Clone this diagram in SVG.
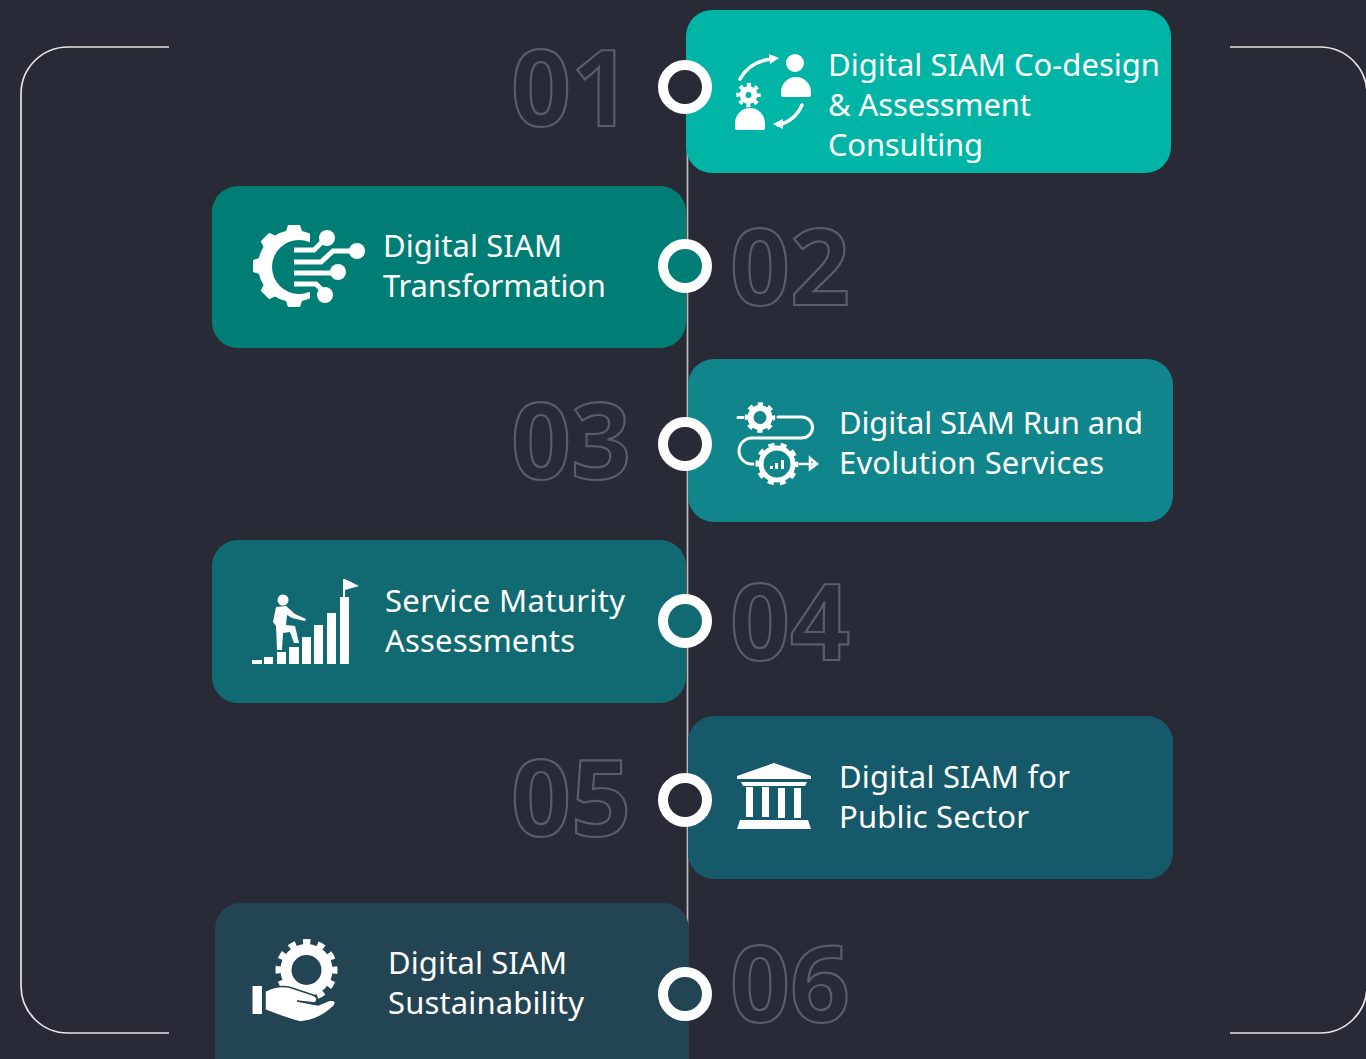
<svg xmlns="http://www.w3.org/2000/svg" width="1366" height="1059" viewBox="0 0 1366 1059">
<style>
.num{font-family:"Open Sans",sans-serif;font-size:105px;font-weight:700;fill:none;stroke:#5a5c66;stroke-width:2.2}
.t{font-family:"Noto Sans",sans-serif;font-size:31px;fill:#fff}
.ring{stroke:#fff;stroke-width:10}
.line{fill:none;stroke:#e4e4e6;stroke-width:1.7}
.w{fill:#fff}
.s{fill:none;stroke:#fff;stroke-linecap:round}
.g{fill:none;stroke:#fff}
</style>
<defs>
<clipPath id="gc"><rect x="240" y="215" width="70" height="100"/></clipPath>
</defs>
<rect width="1366" height="1059" fill="#282a36"/>
<g id="connectors">
<path class="line" d="M169 47H68a47 47 0 0 0-47 47V986a47 47 0 0 0 47 47H169"/>
<path class="line" d="M1230 47H1320a47 47 0 0 1 47 47V986a47 47 0 0 1-47 47H1230"/>
<path class="line" style="stroke:#bbb" d="M687.500 150V930"/>
</g>

<g id="node1">
<rect x="686" y="10" width="485" height="163" rx="26" fill="#00b4a6"/>
<text class="num" x="511" y="126">01</text>
<circle class="ring" cx="685" cy="87" r="22" fill="#282a36"/>
<g>
<path d="M740 79Q750 61 772 59" class="s" stroke-width="3.500"/><path class="w" d="M769 54L779 58L770 64Z"/>
<circle class="w" cx="795" cy="63" r="9"/><path class="w" d="M781 92a15 15 0 0 1 30 0v3a2 2 0 0 1-2 2h-26a2 2 0 0 1-2-2Z"/>
<circle class="g" cx="748.500" cy="95" r="6" stroke-width="6"/>
<circle class="g" cx="748.500" cy="95" r="10" stroke-width="4.500" stroke-dasharray="3.930 3.930" stroke-dashoffset="1.960"/>
<path class="w" d="M735 123a15 15 0 0 1 30 0v5a2 2 0 0 1-2 2h-26a2 2 0 0 1-2-2Z"/>
<path d="M802 105Q795 121 778 125" class="s" stroke-width="3.500"/><path class="w" d="M783 119L773 124L783 129Z"/>
</g>
<text class="t" x="828" y="76" textLength="332">Digital SIAM Co-design</text>
<text class="t" x="828" y="116" textLength="203">&amp; Assessment</text>
<text class="t" x="828" y="156" textLength="155">Consulting</text>
</g>

<g id="node2">
<rect x="212" y="186" width="474" height="162" rx="26" fill="#007d75"/>
<text class="num" x="730" y="305">02</text>
<circle class="ring" cx="685" cy="266" r="22" fill="#007d75"/>
<g>
<g clip-path="url(#gc)">
<circle class="w" cx="294" cy="266" r="36"/>
<g class="w">
<path d="M285 234L288 225H300L303 234Z"/>
<path d="M285 234L288 225H300L303 234Z" transform="rotate(45 294 266)"/>
<path d="M285 234L288 225H300L303 234Z" transform="rotate(-45 294 266)"/>
<path d="M285 234L288 225H300L303 234Z" transform="rotate(-90 294 266)"/>
<path d="M285 234L288 225H300L303 234Z" transform="rotate(-135 294 266)"/>
<path d="M285 234L288 225H300L303 234Z" transform="rotate(180 294 266)"/>
<path d="M285 234L288 225H300L303 234Z" transform="rotate(135 294 266)"/>
</g>
<circle cx="299" cy="267" r="27" fill="#007d75"/>
</g>
<g class="s" stroke-width="5" style="stroke-linecap:butt">
<path d="M294 250H314L326 238"/><path d="M294 262H321L333 251H356"/><path d="M294 273H336"/><path d="M294 284H316L326 294"/>
</g>
<circle class="w" cx="327" cy="238" r="8"/><circle class="w" cx="357" cy="251" r="8"/><circle class="w" cx="338" cy="272" r="8"/><circle class="w" cx="325" cy="295" r="8"/>
</g>
<text class="t" x="383" y="257" textLength="179">Digital SIAM</text>
<text class="t" x="383" y="297" textLength="223">Transformation</text>
</g>

<g id="node3">
<rect x="688" y="359" width="485" height="163" rx="26" fill="#10858b"/>
<text class="num" x="511" y="479">03</text>
<circle class="ring" cx="685" cy="444" r="22" fill="#282a36"/>
<g>
<path class="s" stroke-width="3" d="M738 417.500H743M778 417H802a10.500 10.500 0 0 1 0 21H752a13 13 0 0 0 0 26H753"/>
<circle cx="760" cy="417.500" r="9.500" class="g" stroke-width="6"/>
<circle cx="760" cy="417.500" r="13.500" class="g" stroke-width="3.500" stroke-dasharray="5.300 5.300" stroke-dashoffset="2.650"/>
<circle cx="777" cy="464" r="16" fill="#10858b" stroke="#fff" stroke-width="5"/>
<circle cx="777" cy="464" r="19.500" class="g" stroke-width="4" stroke-dasharray="6.130 6.120" stroke-dashoffset="3.060"/>
<rect class="w" x="770" y="466" width="3" height="3"/><rect class="w" x="775" y="463" width="3" height="6"/><rect class="w" x="781" y="460" width="3" height="9"/>
<path class="s" stroke-width="2.500" d="M800 464H816M810 458L817 464L810 469Z"/>
</g>
<text class="t" x="839" y="434" textLength="304">Digital SIAM Run and</text>
<text class="t" x="839" y="474" textLength="265">Evolution Services</text>
</g>

<g id="node4">
<rect x="212" y="540" width="474" height="163" rx="26" fill="#116a72"/>
<text class="num" x="730" y="660">04</text>
<circle class="ring" cx="685" cy="621" r="22" fill="#116a72"/>
<g class="w">
<rect x="252" y="660" width="10" height="4"/><rect x="264" y="657" width="9" height="7"/><rect x="277" y="652" width="9" height="12"/><rect x="289" y="647" width="10" height="17"/><rect x="302" y="637" width="9" height="27"/><rect x="314" y="625" width="9" height="39"/><rect x="327" y="613" width="9" height="51"/><rect x="340" y="597" width="9" height="67"/>
<rect x="343" y="579" width="2" height="19"/><path d="M345 579L359 586L345 590Z"/>
<circle cx="283" cy="600" r="5.500"/>
<path d="M276 607L286 606L295 614L306 619L305 621L292 618L287 615L286 625L295 626L299 643L294 643L290 632L283 633L282 650L277 650L276 626L273 622Z"/>
</g>
<text class="t" x="385" y="612" textLength="240">Service Maturity</text>
<text class="t" x="385" y="652" textLength="190">Assessments</text>
</g>

<g id="node5">
<rect x="688" y="716" width="485" height="163" rx="26" fill="#15596b"/>
<text class="num" x="511" y="836">05</text>
<circle class="ring" cx="685" cy="800" r="22" fill="#282a36"/>
<g class="w">
<path d="M774 763L811 776V779H737V776Z"/>
<path d="M741 782H807L805 786H743Z"/>
<rect x="746" y="787" width="7" height="30"/><rect x="762" y="787" width="7" height="30"/><rect x="778" y="788" width="7" height="30"/><rect x="794" y="788" width="7" height="30"/>
<path d="M740 820H808L811 829H737Z"/>
</g>
<text class="t" x="839" y="788" textLength="231">Digital SIAM for</text>
<text class="t" x="839" y="828" textLength="190">Public Sector</text>
</g>

<g id="node6">
<path d="M241 903H663a26 26 0 0 1 26 26V1059H215V929a26 26 0 0 1 26-26Z" fill="#224453"/>
<text class="num" x="730" y="1022">06</text>
<circle class="ring" cx="685" cy="994" r="22" fill="#224453"/>
<g>
<circle class="g" cx="306.500" cy="970" r="20.500" stroke-width="11"/>
<circle class="g" cx="306.500" cy="970" r="28" stroke-width="6" stroke-dasharray="7.330 7.330" stroke-dashoffset="3.660"/>
<rect class="w" x="252.500" y="986" width="9.500" height="28"/>
<path class="w" stroke="#224453" stroke-width="1.500" d="M265 991Q280 984 292 988L313 995Q320 998 315 1003L297 1001L318 1005L330 1000Q338 1000 334 1006Q320 1020 300 1022Q285 1018 265 1010Z"/>
</g>
<text class="t" x="388" y="974" textLength="179">Digital SIAM</text>
<text class="t" x="388" y="1014" textLength="196">Sustainability</text>
</g>
</svg>
